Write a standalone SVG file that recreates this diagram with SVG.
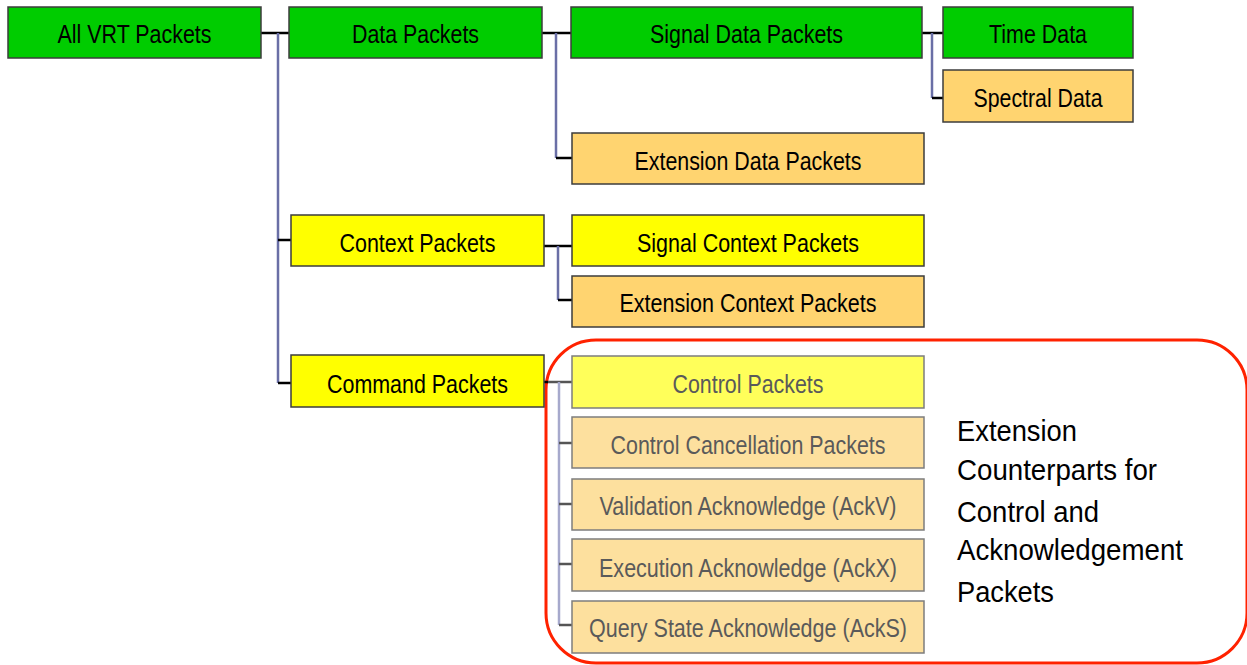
<svg xmlns="http://www.w3.org/2000/svg" width="1247" height="665" viewBox="0 0 1247 665">
  <style>
    .box { stroke: #3c3c3c; stroke-width: 1.5; }
    .faded { stroke: #7d7d7d; stroke-width: 1.5; }
    .green { fill: #00cc00; }
    .yellow { fill: #ffff00; }
    .orange { fill: #ffd470; }
    .pale-yellow { fill: #ffff5a; }
    .pale-orange { fill: #fde09e; }
    .lbl { font-family: "Liberation Sans", Arial, sans-serif; font-size: 25px; fill: #000; text-anchor: middle; }
    .lbl-faded { fill: #5a5a5a; }
    .note { font-family: "Liberation Sans", Arial, sans-serif; font-size: 29px; fill: #000; }
    .stub { stroke: #000; stroke-width: 2.5; fill: none; }
    .trunk { stroke: #6a6fa6; stroke-width: 2.5; fill: none; }
    .stub-faded { stroke: #555; stroke-width: 2.5; fill: none; }
    .trunk-faded { stroke: #a6a9cc; stroke-width: 2.5; fill: none; }
  </style>

  <!-- group outline -->
  <rect id="extension-group" x="546" y="340" width="701" height="323" rx="50" ry="50" fill="none" stroke="#ff2200" stroke-width="3"/>

  <g id="connectors">
    <!-- root branches -->
    <line class="stub" x1="261" y1="33" x2="289" y2="33"/>
    <line class="trunk" x1="278" y1="33" x2="278" y2="383"/>
    <line class="stub" x1="278" y1="240" x2="291" y2="240"/>
    <line class="stub" x1="278" y1="383" x2="291" y2="383"/>
    <!-- data packets -->
    <line class="stub" x1="542" y1="33" x2="571" y2="33"/>
    <line class="trunk" x1="556" y1="33" x2="556" y2="158"/>
    <line class="stub" x1="556" y1="158" x2="572" y2="158"/>
    <!-- signal data packets -->
    <line class="stub" x1="922" y1="33" x2="943" y2="33"/>
    <line class="trunk" x1="932" y1="33" x2="932" y2="98"/>
    <line class="stub" x1="932" y1="98" x2="943" y2="98"/>
    <!-- context packets -->
    <line class="stub" x1="544" y1="246" x2="572" y2="246"/>
    <line class="trunk" x1="558" y1="246" x2="558" y2="300"/>
    <line class="stub" x1="558" y1="300" x2="572" y2="300"/>
    <!-- command packets -->
    <line class="stub" x1="544" y1="382" x2="548" y2="382"/>
    <line class="stub-faded" x1="548" y1="382" x2="572" y2="382"/>
    <line class="trunk-faded" x1="559" y1="382" x2="559" y2="625"/>
    <line class="stub-faded" x1="559" y1="443" x2="572" y2="443"/>
    <line class="stub-faded" x1="559" y1="504" x2="572" y2="504"/>
    <line class="stub-faded" x1="559" y1="564" x2="572" y2="564"/>
    <line class="stub-faded" x1="559" y1="625" x2="572" y2="625"/>
  </g>

  <g id="all-vrt-packets">
    <rect class="box green" x="8" y="7" width="253" height="51"/>
    <text class="lbl" x="134.5" y="43" textLength="154" lengthAdjust="spacingAndGlyphs">All VRT Packets</text>
  </g>
  <g id="data-packets">
    <rect class="box green" x="289" y="7" width="253" height="51"/>
    <text class="lbl" x="415.5" y="43" textLength="127" lengthAdjust="spacingAndGlyphs">Data Packets</text>
  </g>
  <g id="signal-data-packets">
    <rect class="box green" x="571" y="7" width="351" height="51"/>
    <text class="lbl" x="746.5" y="43" textLength="193" lengthAdjust="spacingAndGlyphs">Signal Data Packets</text>
  </g>
  <g id="time-data">
    <rect class="box green" x="943" y="7" width="190" height="51"/>
    <text class="lbl" x="1038" y="43" textLength="98" lengthAdjust="spacingAndGlyphs">Time Data</text>
  </g>
  <g id="spectral-data">
    <rect class="box orange" x="943" y="70" width="190" height="52"/>
    <text class="lbl" x="1038" y="107" textLength="129" lengthAdjust="spacingAndGlyphs">Spectral Data</text>
  </g>
  <g id="extension-data-packets">
    <rect class="box orange" x="572" y="133" width="352" height="51"/>
    <text class="lbl" x="748" y="170" textLength="227" lengthAdjust="spacingAndGlyphs">Extension Data Packets</text>
  </g>
  <g id="context-packets">
    <rect class="box yellow" x="291" y="215" width="253" height="51"/>
    <text class="lbl" x="417.5" y="252" textLength="156" lengthAdjust="spacingAndGlyphs">Context Packets</text>
  </g>
  <g id="signal-context-packets">
    <rect class="box yellow" x="572" y="215" width="352" height="51"/>
    <text class="lbl" x="748" y="252" textLength="222" lengthAdjust="spacingAndGlyphs">Signal Context Packets</text>
  </g>
  <g id="extension-context-packets">
    <rect class="box orange" x="572" y="276" width="352" height="51"/>
    <text class="lbl" x="748" y="312" textLength="257" lengthAdjust="spacingAndGlyphs">Extension Context Packets</text>
  </g>
  <g id="command-packets">
    <rect class="box yellow" x="291" y="355" width="253" height="52"/>
    <text class="lbl" x="417.5" y="393" textLength="181" lengthAdjust="spacingAndGlyphs">Command Packets</text>
  </g>
  <g id="control-packets">
    <rect class="faded pale-yellow" x="572" y="356" width="352" height="52"/>
    <text class="lbl lbl-faded" x="748" y="393" textLength="151" lengthAdjust="spacingAndGlyphs">Control Packets</text>
  </g>
  <g id="control-cancellation-packets">
    <rect class="faded pale-orange" x="572" y="417" width="352" height="51"/>
    <text class="lbl lbl-faded" x="748" y="454" textLength="275" lengthAdjust="spacingAndGlyphs">Control Cancellation Packets</text>
  </g>
  <g id="validation-acknowledge">
    <rect class="faded pale-orange" x="572" y="479" width="352" height="51"/>
    <text class="lbl lbl-faded" x="748" y="515" textLength="297" lengthAdjust="spacingAndGlyphs">Validation Acknowledge (AckV)</text>
  </g>
  <g id="execution-acknowledge">
    <rect class="faded pale-orange" x="572" y="539" width="352" height="52"/>
    <text class="lbl lbl-faded" x="748" y="577" textLength="298" lengthAdjust="spacingAndGlyphs">Execution Acknowledge (AckX)</text>
  </g>
  <g id="query-state-acknowledge">
    <rect class="faded pale-orange" x="572" y="601" width="352" height="52"/>
    <text class="lbl lbl-faded" x="748" y="637" textLength="318" lengthAdjust="spacingAndGlyphs">Query State Acknowledge (AckS)</text>
  </g>

  <g id="group-note">
    <text class="note" x="957" y="441" textLength="120" lengthAdjust="spacingAndGlyphs">Extension</text>
    <text class="note" x="957" y="480" textLength="200" lengthAdjust="spacingAndGlyphs">Counterparts for</text>
    <text class="note" x="957" y="522" textLength="142" lengthAdjust="spacingAndGlyphs">Control and</text>
    <text class="note" x="957" y="560" textLength="226" lengthAdjust="spacingAndGlyphs">Acknowledgement</text>
    <text class="note" x="957" y="602" textLength="97" lengthAdjust="spacingAndGlyphs">Packets</text>
  </g>
</svg>
